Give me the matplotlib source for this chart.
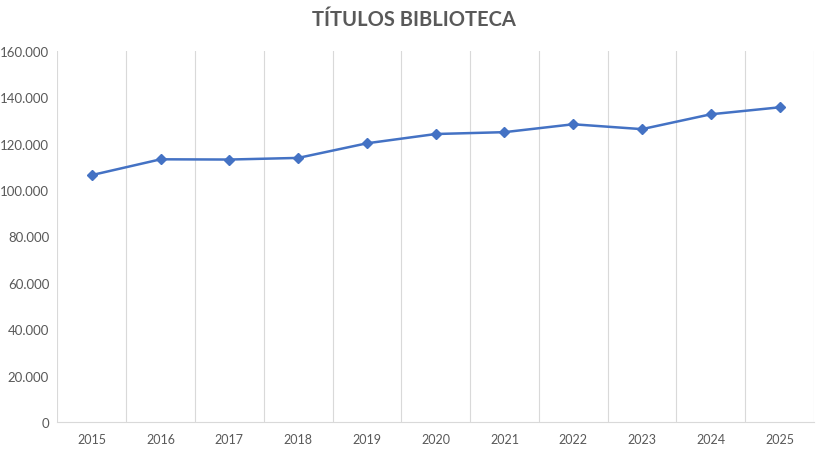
import matplotlib
matplotlib.use('Agg')
import matplotlib.pyplot as plt
from matplotlib.ticker import FuncFormatter

years = ['2015', '2016', '2017', '2018', '2019', '2020', '2021', '2022', '2023', '2024', '2025']
titulos = [106400, 113200, 113100, 113800, 120100, 124100, 124900, 128300, 126200, 132600, 135600]

line_color = '#4472C4'
grid_color = '#D9D9D9'
text_color = '#595959'

plt.rcParams['font.family'] = ['Lato', 'DejaVu Sans']

fig = plt.figure(figsize=(8.28, 4.52), dpi=100)
ax = fig.add_axes([0.0694, 0.0642, 0.9136, 0.8214])

x = list(range(len(years)))
ax.plot(x, titulos, color=line_color, lw=1.8, marker='D', ms=5.5, zorder=3)

ax.set_xlim(-0.5, len(years) - 0.5)
ax.set_ylim(0, 160000)
ax.set_yticks(range(0, 160001, 20000))
ax.yaxis.set_major_formatter(FuncFormatter(lambda v, p: f'{int(v):,}'.replace(',', '.')))
ax.set_xticks(x)
ax.set_xticklabels(years)

# vertical gridlines between the categories, like Excel
for b in [i - 0.5 for i in range(len(years) + 1)]:
    ax.axvline(b, color=grid_color, lw=0.8, zorder=1)

for s in ['top', 'right', 'left']:
    ax.spines[s].set_visible(False)
ax.spines['bottom'].set_color(grid_color)
ax.spines['bottom'].set_linewidth(0.8)

ax.tick_params(axis='both', length=0, colors=text_color, labelsize=9.5)
ax.tick_params(axis='x', pad=8, labelsize=9)
ax.tick_params(axis='y', pad=6)

fig.text(0.5, 0.955, 'TÍTULOS BIBLIOTECA', ha='center', va='center',
         fontsize=14.5, fontweight='bold', color=text_color)

fig.savefig('out.png', dpi=100)
